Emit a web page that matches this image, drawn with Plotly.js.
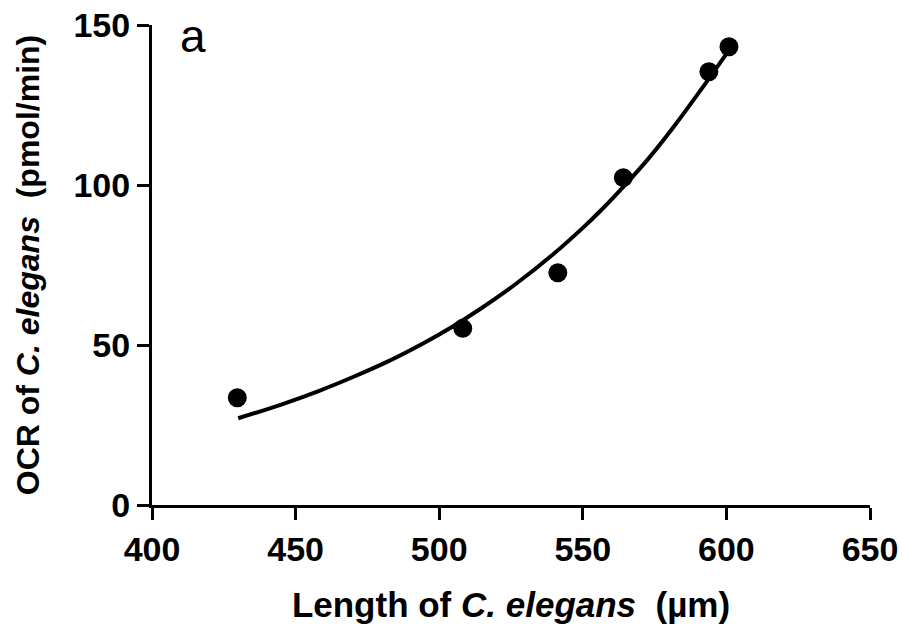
<!DOCTYPE html>
<html>
<head>
<meta charset="utf-8">
<script src="https://cdn.plot.ly/plotly-3.0.1.min.js"></script>
<style>html,body{margin:0;padding:0;background:#fff;}#chart{width:902px;height:633px;}</style>
</head>
<body>
<div id="chart"></div>
<script>
// Measured points
const lengthUm = [429.7, 508.2, 541.3, 564.1, 593.9, 600.9];
const ocrPmolMin = [33.5, 55.2, 72.6, 102.3, 135.4, 143.2];

// Fitted curve
const fitLength = [430, 445, 458, 470, 482, 495, 504, 514, 527, 540, 550, 556, 565, 573, 582, 591, 600];
const fitOcr    = [27.1, 31.4, 35.6, 40.0, 44.8, 50.8, 55.4, 61.1, 69.3, 78.6, 86.6, 91.8, 100.3, 108.4, 118.6, 129.6, 141.0];

const xTicks = [400, 450, 500, 550, 600, 650];
const yTicks = [0, 50, 100, 150];

const FONT = "Liberation Sans, Arial, sans-serif";

const traces = [
  {
    x: fitLength, y: fitOcr, type: 'scatter', mode: 'lines',
    line: {color: '#000', width: 4, shape: 'spline', smoothing: 1},
    hoverinfo: 'skip', showlegend: false
  },
  {
    x: lengthUm, y: ocrPmolMin, type: 'scatter', mode: 'markers',
    marker: {color: '#000', size: 19},
    showlegend: false
  }
];

const layout = {
  width: 902, height: 633,
  paper_bgcolor: '#fff', plot_bgcolor: '#fff',
  margin: {l: 152, r: 32, t: 25, b: 128},
  font: {family: FONT, color: '#000'},
  xaxis: {
    range: [400, 650], tickvals: xTicks, ticktext: xTicks.map(String),
    showgrid: false, zeroline: false,
    showline: true, linecolor: '#000', linewidth: 3,
    ticks: 'outside', ticklen: 12, tickwidth: 3, tickcolor: '#000',
    tickfont: {family: FONT, size: 34, weight: 'bold', color: '#000'},
    title: {text: 'Length of <i>C. elegans</i>\u00A0 (µm)', standoff: 26,
            font: {family: FONT, size: 35, weight: 'bold', color: '#000'}},
    automargin: false
  },
  yaxis: {
    range: [0, 150], tickvals: yTicks, ticktext: yTicks.map(String),
    showgrid: false, zeroline: false,
    showline: true, linecolor: '#000', linewidth: 3,
    ticks: 'outside', ticklen: 12, tickwidth: 3, tickcolor: '#000',
    tickfont: {family: FONT, size: 34, weight: 'bold', color: '#000'},
    title: {text: 'OCR of <i>C. elegans</i>\u00A0 (pmol/min)', standoff: 25,
            font: {family: FONT, size: 32, weight: 'bold', color: '#000'}},
    automargin: false
  },
  annotations: [{
    text: 'a', xref: 'paper', yref: 'paper', x: 0.036, y: 1.035,
    xanchor: 'left', yanchor: 'top', showarrow: false,
    font: {family: FONT, size: 46, color: '#000'}
  }]
};

Plotly.newPlot('chart', traces, layout, {displayModeBar: false, staticPlot: true});
</script>
</body>
</html>
